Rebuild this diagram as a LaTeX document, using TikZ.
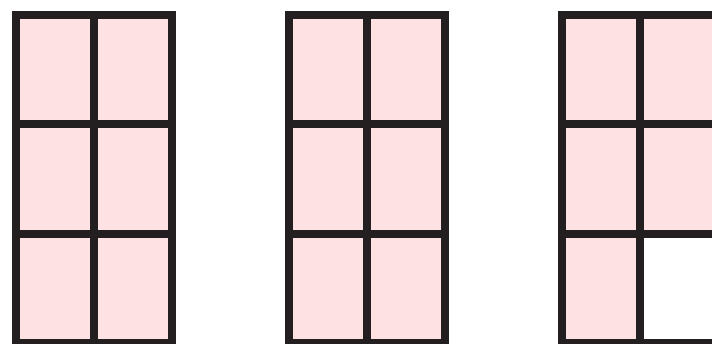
\documentclass[tikz,border=0pt]{standalone}
\usetikzlibrary{positioning}
\definecolor{cellpink}{RGB}{253,225,227}
\definecolor{barblack}{RGB}{35,31,32}
\tikzset{
  cell/.style={draw=barblack, fill=cellpink, line width=8pt, minimum width=78pt,
    minimum height=109.4pt, inner sep=0pt, outer sep=0pt},
}
\begin{document}
\begin{tikzpicture}[x=1pt,y=-1pt]
\useasboundingbox (0,0) rectangle (712,344);
\clip (0,0) rectangle (712,344);
% three 2x3 grids, the last one has an empty corner
\foreach \g/\gx/\gap in {1/16/cellpink,2/289/cellpink,3/562/white}{
  \foreach \c in {1,2}{
    \foreach \r in {1,2,3}{
      \ifnum\c\r=23 \def\cfill{\gap}\else\def\cfill{cellpink}\fi
      \node[cell, fill=\cfill] (g\g c\c r\r) at ({\gx+(\c-0.5)*78},{14.7+(\r-0.5)*109.43}) {};
    }}}
\end{tikzpicture}
\end{document}
